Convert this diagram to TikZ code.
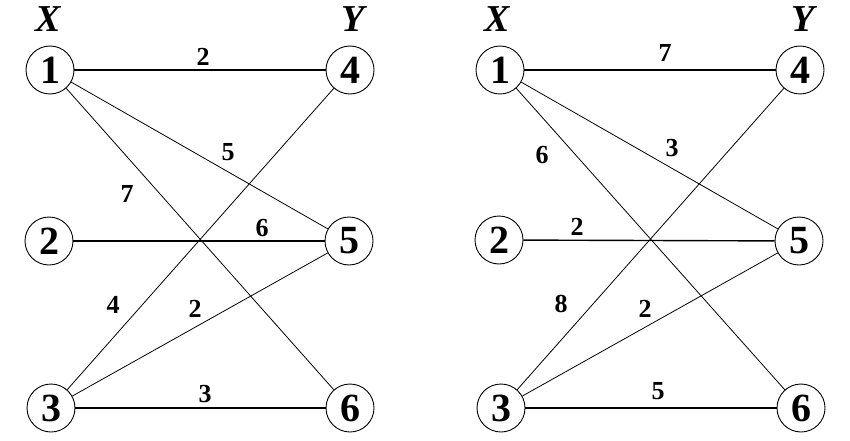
\documentclass[tikz,border=0pt]{standalone}
\usepackage{fontspec}
\setmainfont{Liberation Serif}
\begin{document}
\begin{tikzpicture}[x=1pt,y=1pt,
  vtx/.style={circle,draw,line width=0.9pt,minimum size=48pt,inner sep=0pt,
    font=\fontsize{40}{40}\selectfont\bfseries},
  wt/.style={font=\fontsize{26}{26}\selectfont\bfseries,inner sep=0pt},
  side/.style={font=\fontsize{38}{38}\selectfont\bfseries\itshape,inner sep=0pt},
  link/.style={line width=0.8pt},
  flat/.style={line width=1.4pt}]
  \useasboundingbox (0,0) rectangle (850,440);

  % Left graph: vertices
  \node[vtx] (l1) at (50,370) {1};
  \node[vtx] (l2) at (49,199) {2};
  \node[vtx] (l3) at (51,32) {3};
  \node[vtx] (l4) at (350,370) {4};
  \node[vtx] (l5) at (349,199) {5};
  \node[vtx] (l6) at (350,32) {6};
  \node[side] (lx) at (48,421) {X};
  \node[side] (ly) at (353,421) {Y};

  % Left graph: edges
  \foreach \a/\b in {l1/l4,l2/l5,l3/l6}
    \draw[flat] (\a) -- (\b);
  \foreach \a/\b in {l1/l5,l1/l6,l3/l4,l3/l5}
    \draw[link] (\a) -- (\b);

  % Left graph: weights
  \node[wt] (lw14) at (203,383) {2};
  \node[wt] (lw15) at (228,288) {5};
  \node[wt] (lw16) at (127,246) {7};
  \node[wt] (lw25) at (262,212) {6};
  \node[wt] (lw34) at (113,135) {4};
  \node[wt] (lw35) at (195,131) {2};
  \node[wt] (lw36) at (205,46) {3};

  % Right graph: vertices
  \node[vtx] (r1) at (500,370) {1};
  \node[vtx] (r2) at (499,200) {2};
  \node[vtx] (r3) at (501,32) {3};
  \node[vtx] (r4) at (800,370) {4};
  \node[vtx] (r5) at (799,199) {5};
  \node[vtx] (r6) at (801,32) {6};
  \node[side] (rx) at (497,421) {X};
  \node[side] (ry) at (803,421) {Y};

  % Right graph: edges
  \foreach \a/\b in {r1/r4,r2/r5,r3/r6}
    \draw[flat] (\a) -- (\b);
  \foreach \a/\b in {r1/r5,r1/r6,r3/r4,r3/r5}
    \draw[link] (\a) -- (\b);

  % Right graph: weights
  \node[wt] (rw14) at (665,387) {7};
  \node[wt] (rw15) at (672,292) {3};
  \node[wt] (rw16) at (542,285) {6};
  \node[wt] (rw25) at (577,213) {2};
  \node[wt] (rw34) at (561,136) {8};
  \node[wt] (rw35) at (645,131) {2};
  \node[wt] (rw36) at (658,49) {5};
\end{tikzpicture}
\end{document}
